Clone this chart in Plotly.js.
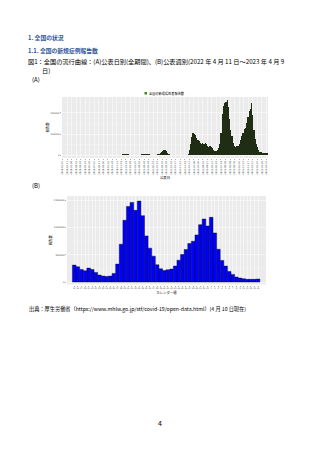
<!DOCTYPE html>
<html><head><meta charset="utf-8">
<script src="https://cdn.plot.ly/plotly-3.0.1.min.js"></script>
<style>html,body{margin:0;padding:0;background:#fff;} #chart{width:320px;height:453px;}</style>
</head><body><div id="chart"></div>
<script>
// (A) daily reported cases, highest day of each week, weeks starting Monday 2020-01-13
const weekStartA = '2020-01-13';
const dailyPeakByWeek = [
  1,2,5,10,15,20,25,40,60,60,200,400,700,600,450,250,120,60,40,40,
  50,50,60,100,250,400,650,980,1300,1600,1300,1200,900,650,650,600,600,650,650,700,
  700,800,1200,1700,2400,2500,2600,3000,3200,3800,4500,
  7900,7100,5600,3900,2600,1800,1500,1200,1300,1300,1600,2000,2800,3500,4800,5600,5900,7200,7000,6000,
  4500,3000,2300,1800,1800,2200,3200,4000,5400,10700,15300,20300,26000,25000,20000,12400,7000,5000,2700,1600,
  850,550,400,300,250,200,150,160,180,200,300,550,
  6000,25000,53000,84000,105000,100000,95000,80000,70000,65000,60000,55000,57000,55000,57000,52000,45000,41000,45000,40000,
  32000,25000,20000,20000,26000,36000,55000,105000,195000,234000,249000,250000,261000,230000,170000,120000,90000,60000,45000,40000,
  45000,43000,52000,71000,90000,105000,125000,130000,150000,180000,207000,217000,
  246000,190000,120000,77000,55000,37000,26000,17000,14000,12000,9500,9000,10000,11000
];
const yTicksA = [0, 100000, 200000];
const legendLabelA = '全国の新規陽性者報告数';

// (B) weekly reported cases, calendar weeks 15/2022 - 14/2023
const weekLabelsB = ['15','16','17','18','19','20','21','22','23','24','25','26','27','28','29','30','31','32','33','34',
  '35','36','37','38','39','40','41','42','43','44','45','46','47','48','49','50','51','52',
  '1','2','3','4','5','6','7','8','9','10','11','12','13','14'];
const weeklyCountsB = [310000,280000,231000,207000,255000,231000,176000,128000,109000,103000,
  109000,158000,328000,693000,1130000,1385000,1458000,1312000,1482000,1215000,
  845000,620000,474000,316000,243000,213000,225000,237000,292000,401000,
  504000,595000,705000,747000,863000,1051000,1154000,1027000,
  1185000,899000,601000,395000,292000,194000,140000,91000,73000,61000,49000,49000,49000,55000];
const yTicksB = [0, 500000, 1000000, 1500000];

const W = 320, H = 453;
const px = v => v / W, py = v => 1 - v / H;
const DAY = 86400000;
const t0 = Date.parse(weekStartA + 'T00:00:00Z');
const xA = dailyPeakByWeek.map((_, i) => new Date(t0 + (i * 7 + 3.5) * DAY).toISOString());

const traceA = {type:'bar', x:xA, y:dailyPeakByWeek, width:7*DAY, xaxis:'x', yaxis:'y',
  marker:{color:'#1f2d15', line:{width:0}}, showlegend:false, hoverinfo:'skip'};
const traceB = {type:'bar', x:weekLabelsB, y:weeklyCountsB, xaxis:'x2', yaxis:'y2',
  marker:{color:'#0000ff', line:{color:'#000', width:0.4}}, width:1, showlegend:false, hoverinfo:'skip'};

const tickFont = {family:'DejaVu Sans', size:2.4, color:'#4d4d4d'};
const titleFont = {family:'Noto Sans CJK JP', size:3.4, color:'#000'};

function ann(text, x, y, size, color, bold, anchor) {
  return {text: bold ? '<b>'+text+'</b>' : text, x:px(x), y:py(y), xref:'paper', yref:'paper',
    xanchor:anchor||'left', yanchor:'middle', showarrow:false, borderpad:0,
    font:{family:'Noto Sans CJK JP', size:size, color:color||'#000'}};
}

const layout = {
  width:W, height:H, margin:{l:0,r:0,t:0,b:0},
  paper_bgcolor:'#fff', plot_bgcolor:'#ebebeb', bargap:0, barmode:'overlay',
  xaxis:{domain:[px(62), px(268)], anchor:'y', type:'date',
    range:['2020-01-13','2023-04-10'], tick0:'2020-01-16', dtick:26*DAY, tickformat:'%Y-%m-%d',
    tickangle:-90, tickfont:tickFont, ticks:'outside', ticklen:1, tickcolor:'#333', tickwidth:0.4,
    showgrid:true, gridcolor:'#ffffff', gridwidth:0.5, zeroline:false, showline:false,
    title:{text:'公表日', font:titleFont, standoff:1}},
  yaxis:{domain:[py(158), py(97)], anchor:'x', range:[-13000, 275000], tickvals:yTicksA,
    ticktext:yTicksA.map(String), tickfont:tickFont, ticks:'outside', ticklen:1, tickcolor:'#333', tickwidth:0.4,
    showgrid:true, gridcolor:'#ffffff', gridwidth:0.5, zeroline:false,
    minor:{tickvals:[50000,150000,250000], showgrid:true, gridcolor:'#f5f5f5', gridwidth:0.3},
    title:{text:'報告数', font:titleFont, standoff:1}},
  xaxis2:{domain:[px(67), px(266)], anchor:'y2', type:'category', range:[-2.0, 53.2],
    tickfont:{family:'DejaVu Sans', size:2.1, color:'#4d4d4d'}, tickangle:0, ticks:'outside', ticklen:1,
    tickcolor:'#333', tickwidth:0.4, showgrid:true, gridcolor:'#ffffff', gridwidth:0.5, zeroline:false,
    title:{text:'カレンダー週', font:titleFont, standoff:1}},
  yaxis2:{domain:[py(284.5), py(196)], anchor:'x2', range:[-45000, 1575000], tickvals:yTicksB,
    ticktext:yTicksB.map(String), tickfont:tickFont, ticks:'outside', ticklen:1, tickcolor:'#333', tickwidth:0.4,
    showgrid:true, gridcolor:'#ffffff', gridwidth:0.5, zeroline:false,
    minor:{tickvals:[250000,750000,1250000], showgrid:true, gridcolor:'#f5f5f5', gridwidth:0.3},
    title:{text:'報告数', font:titleFont, standoff:1}},
  shapes:[{type:'rect', xref:'paper', yref:'paper', x0:px(144.5), x1:px(147), y0:py(94.5), y1:py(92),
    fillcolor:'#3a8a1a', line:{width:0}}],
  annotations:[
    ann('1. 全国の状況', 27, 37.5, 5.8, '#2e5597', true),
    ann('1.1. 全国の新規症例報告数', 27, 50, 5.8, '#2e5597', true),
    ann('図1：全国の流行曲線：(A)公表日別(全期間)、(B)公表週別(2022 年 4 月 11 日～2023 年 4 月 9', 27, 61.8, 6.2),
    ann('日)', 40.5, 70.4, 6.2),
    ann('(A)', 31, 79.5, 6.0),
    ann('(B)', 31, 185, 6.0),
    ann(legendLabelA, 148, 93.3, 3.2),
    ann('出典：厚生労働省（https://www.mhlw.go.jp/stf/covid-19/open-data.html）(4 月 10 日現在)', 28, 308.5, 5.2),
    ann('4', 160, 423, 7, '#000', false, 'center')
  ]
};

Plotly.newPlot('chart', [traceA, traceB], layout, {staticPlot:true, displayModeBar:false});
</script>
</body></html>
